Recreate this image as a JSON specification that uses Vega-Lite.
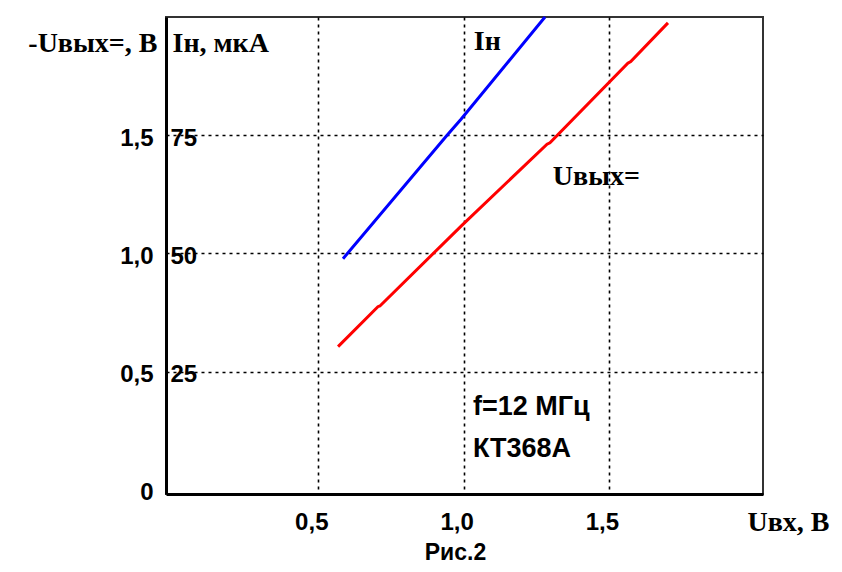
{
  "$schema": "https://vega.github.io/schema/vega-lite/v6.json",
  "width": 597,
  "height": 477,
  "autosize": {"type": "none"},
  "padding": {"left": 166, "top": 17, "right": 79, "bottom": 78},
  "background": "white",
  "config": {
    "view": {"stroke": "#333333", "strokeWidth": 2},
    "axis": {
      "labelFont": "Liberation Sans",
      "labelFontWeight": "bold",
      "labelFontSize": 24,
      "labelColor": "black",
      "titleFont": "Liberation Serif",
      "titleFontWeight": "bold",
      "titleFontSize": 28,
      "titleColor": "black",
      "ticks": false,
      "gridColor": "black",
      "gridDash": [3, 4],
      "gridWidth": 1.6
    }
  },
  "title": {
    "text": "Рис.2",
    "orient": "bottom",
    "anchor": "middle",
    "frame": "group",
    "font": "Liberation Sans",
    "fontWeight": "bold",
    "fontSize": 23,
    "color": "black",
    "offset": 6,
    "dx": -9
  },
  "layer": [
    {
      "data": {"values": [
        {"u_in": 0.568, "u_out": 0.606},
        {"u_in": 0.705, "u_out": 0.775},
        {"u_in": 0.712, "u_out": 0.778},
        {"u_in": 0.994, "u_out": 1.119},
        {"u_in": 1.287, "u_out": 1.462},
        {"u_in": 1.297, "u_out": 1.468},
        {"u_in": 1.565, "u_out": 1.805},
        {"u_in": 1.575, "u_out": 1.812},
        {"u_in": 1.703, "u_out": 1.975}
      ]},
      "mark": {"type": "line", "color": "#ff0000", "strokeWidth": 3},
      "encoding": {
        "x": {
          "field": "u_in", "type": "quantitative",
          "scale": {"domain": [-0.024, 2.03], "nice": false, "zero": false},
          "axis": {
            "values": [0.5, 1, 1.5],
            "labelExpr": "replace(format(datum.value, '.1f'), '.', ',')",
            "labelPadding": 16,
            "labelOffset": -7,
            "domainColor": "black",
            "domainWidth": 3,
            "grid": true,
            "title": "Uвх, В",
            "titleAlign": "left",
            "titleBaseline": "alphabetic",
            "titleX": 581,
            "titleY": 36
          }
        },
        "y": {
          "field": "u_out", "type": "quantitative",
          "scale": {"domain": [-0.017, 2.0], "nice": false, "zero": false},
          "axis": {
            "orient": "left",
            "values": [0, 0.5, 1, 1.5],
            "labelExpr": "datum.value == 0 ? '0' : replace(format(datum.value, '.1f'), '.', ',')",
            "labelPadding": 13,
            "labelOffset": 3,
            "domainColor": "black",
            "domainWidth": 3,
            "grid": true,
            "gridOpacity": {"condition": {"test": "datum.value === 0", "value": 0}, "value": 1},
            "title": "-Uвых=, В",
            "titleAngle": 0,
            "titleAlign": "right",
            "titleBaseline": "alphabetic",
            "titleX": -9,
            "titleY": 34
          }
        }
      }
    },
    {
      "data": {"values": [
        {"u_in": 0.585, "i_n": 48.9},
        {"u_in": 0.943, "i_n": 75.0},
        {"u_in": 0.991, "i_n": 78.4},
        {"u_in": 1.280, "i_n": 100.0}
      ]},
      "mark": {"type": "line", "color": "#0000ff", "strokeWidth": 3},
      "encoding": {
        "x": {"field": "u_in", "type": "quantitative", "scale": {"domain": [-0.024, 2.03], "nice": false, "zero": false}},
        "y": {
          "field": "i_n", "type": "quantitative",
          "scale": {"domain": [-0.85, 100], "nice": false, "zero": false},
          "axis": {
            "orient": "right",
            "offset": -597,
            "values": [25, 50, 75],
            "labelExpr": "datum.value == 25 ? '\u00a025' : datum.label",
            "labelAlign": "left",
            "labelPadding": 4,
            "labelOffset": 3,
            "domain": false,
            "grid": false,
            "title": "Iн, мкА",
            "titleAngle": 0,
            "titleAlign": "left",
            "titleBaseline": "alphabetic",
            "titleX": 6,
            "titleY": 34
          }
        }
      }
    },
    {
      "data": {"values": [
        {"u_in": 1.035, "u_out": 1.894, "label": "Iн"},
        {"u_in": 1.307, "u_out": 1.322, "label": "Uвых="}
      ]},
      "mark": {"type": "text", "align": "left", "baseline": "middle", "font": "Liberation Serif", "fontWeight": "bold", "fontSize": 28, "color": "black"},
      "encoding": {
        "x": {"field": "u_in", "type": "quantitative", "scale": {"domain": [-0.024, 2.03], "nice": false, "zero": false}},
        "y": {"field": "u_out", "type": "quantitative", "scale": {"domain": [-0.017, 2.0], "nice": false, "zero": false}, "axis": null},
        "text": {"field": "label"}
      }
    },
    {
      "data": {"values": [
        {"u_in": 1.032, "u_out": 0.352, "label": "f=12 МГц"},
        {"u_in": 1.032, "u_out": 0.174, "label": "КТ368А"}
      ]},
      "mark": {"type": "text", "align": "left", "baseline": "middle", "font": "Liberation Sans", "fontWeight": "bold", "fontSize": 27, "color": "black"},
      "encoding": {
        "x": {"field": "u_in", "type": "quantitative", "scale": {"domain": [-0.024, 2.03], "nice": false, "zero": false}},
        "y": {"field": "u_out", "type": "quantitative", "scale": {"domain": [-0.017, 2.0], "nice": false, "zero": false}, "axis": null},
        "text": {"field": "label"}
      }
    }
  ],
  "resolve": {"scale": {"y": "independent"}, "axis": {"y": "independent"}}
}
